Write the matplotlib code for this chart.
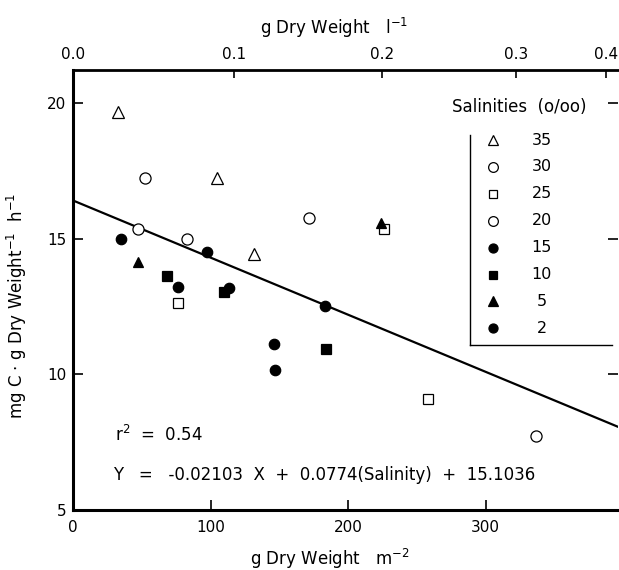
import numpy as np
import matplotlib
matplotlib.use('Agg')
import matplotlib.pyplot as plt

plt.rcParams['font.family'] = 'DejaVu Sans'
plt.rcParams['mathtext.default'] = 'regular'

# -------------------------------------
# Data
# -------------------------------------

# biomass (g dry weight m-2) and rate (mg C g-1 h-1), one pair per salinity
x_35 = [32.9, 104.3, 131.3]
y_35 = [19.66, 17.21, 14.43]
x_30 = [52.2, 47.0, 171.5]
y_30 = [17.24, 15.34, 15.74]
x_25 = [76.0, 225.9, 258.3]
y_25 = [12.64, 15.35, 9.10]
x_20 = [82.9, 336.5]
y_20 = [14.97, 7.74]
x_15 = [34.6, 97.5, 76.0, 113.4]
y_15 = [14.98, 14.51, 13.23, 13.19]
x_10 = [68.0, 109.6, 184.1]
y_10 = [13.62, 13.02, 10.94]
x_5 = [47.0, 224.0]
y_5 = [14.15, 15.56]
x_2 = [183.4, 146.1, 147.1]
y_2 = [12.52, 11.12, 10.17]

salinities = ['35', '30', '25', '20', '15', '10', '5', '2']

# fitted line, drawn at mean salinity
slope = -0.02103
intercept = 16.4

# top axis (g dry weight l-1) tick positions on the bottom scale
top_tick_pos = [0.0, 117.2, 224.9, 322.2, 387.5]
top_tick_labels = ['0.0', '0.1', '0.2', '0.3', '0.4']

# -------------------------------------
# Plot
# -------------------------------------

# marker, filled, size
styles = [('^', False, 8), ('o', False, 8), ('s', False, 7), ('o', False, 8),
          ('o', True, 7.5), ('s', True, 7), ('^', True, 7.5), ('o', True, 7.5)]
series = [(x_35, y_35), (x_30, y_30), (x_25, y_25), (x_20, y_20),
          (x_15, y_15), (x_10, y_10), (x_5, y_5), (x_2, y_2)]

fig = plt.figure(figsize=(6.19, 5.70), dpi=100)
ax = fig.add_axes([0.118, 0.105, 0.880, 0.772])

xmax = 396
x_line = np.array([0, xmax])
ax.plot(x_line, intercept + slope * x_line, color='black', lw=1.6, zorder=1)

for (xs, ys), (m, filled, size) in zip(series, styles):
    ax.plot(xs, ys, linestyle='none', marker=m, ms=size,
            mfc='black' if filled else 'white', mec='black', mew=0.9, zorder=3)

ax.set_xlim(0, xmax)
ax.set_ylim(5, 21.2)
ax.set_xticks([0, 100, 200, 300])
ax.set_yticks([5, 10, 15, 20])
ax.tick_params(direction='in', length=7, width=1.2, labelsize=11, right=True)
ax.tick_params(axis='y', pad=5)
ax.tick_params(axis='x', pad=7)
ax.spines['right'].set_visible(False)
ax.spines['top'].set_visible(False)
for s in ['left', 'bottom']:
    ax.spines[s].set_linewidth(2.2)

ax.set_xlabel('g Dry Weight   m$^{-2}$', fontsize=12)
ax.xaxis.set_label_coords(0.472, -0.084)
ax.set_ylabel('mg C $\\cdot$ g Dry Weight$^{-1}$  h$^{-1}$', fontsize=12)
ax.yaxis.set_label_coords(-0.08, 0.464)

ax2 = ax.twiny()
ax2.set_xlim(ax.get_xlim())
ax2.set_xticks(top_tick_pos, top_tick_labels)
ax2.tick_params(direction='in', length=6, width=1.2, labelsize=11, pad=6)
for s in ['left', 'bottom', 'right']:
    ax2.spines[s].set_visible(False)
ax2.spines['top'].set_linewidth(2.0)
ax2.set_xlabel('g Dry Weight   l$^{-1}$', fontsize=12)
ax2.xaxis.set_label_coords(0.479, 1.082)

# legend drawn by hand: only left and bottom border
tr = ax.transAxes
ax.text(0.82, 0.917, 'Salinities  (o/oo)', transform=tr, ha='center', va='center', fontsize=12)
ax.plot([0.728, 0.728], [0.852, 0.375], transform=tr, color='black', lw=1.0)
ax.plot([0.728, 0.989], [0.375, 0.375], transform=tr, color='black', lw=1.0)
for i, (lab, (m, filled, size)) in enumerate(zip(salinities, styles)):
    yy = 0.841 - i * 0.0611
    ax.plot([0.7706], [yy], transform=tr, linestyle='none', marker=m, ms=size - 1,
            mfc='black' if filled else 'white', mec='black', mew=0.9)
    ax.text(0.860, yy, lab, transform=tr, ha='center', va='center', fontsize=11.5)

ax.text(0.077, 0.170, 'r$^2$  =  0.54', transform=tr, ha='left', va='center', fontsize=12)
ax.text(0.073, 0.080, 'Y   =   -0.02103  X  +  0.0774(Salinity)  +  15.1036',
        transform=tr, ha='left', va='center', fontsize=12)

fig.savefig('out.png', dpi=100)
